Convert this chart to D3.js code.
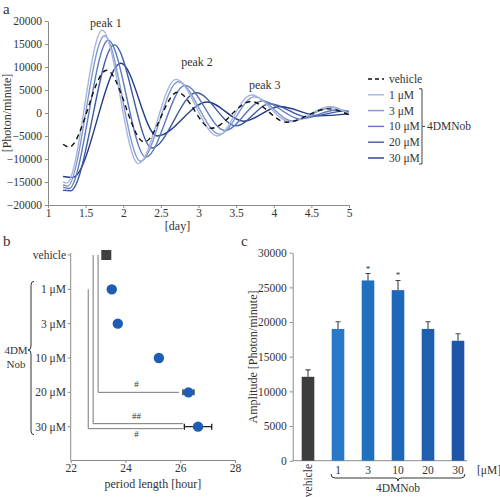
<!DOCTYPE html>
<html><head><meta charset="utf-8">
<script src="https://cdn.jsdelivr.net/npm/d3@7"></script>
<style>
html,body{margin:0;padding:0;background:#fff;}
svg text{font-family:"Liberation Serif","DejaVu Serif",serif;fill:#333;}
</style></head>
<body>
<svg id="chart" width="500" height="497"></svg>
<script>
// ---------- Panel a data: [day, photon/minute] ----------
const seriesNames = ["vehicle", "1 μM", "3 μM", "10 μM", "20 μM", "30 μM"];
const vehicleCurve = [[1.2,-6800],[1.28,-7400],[1.78,9300],[2.28,-6300],[2.72,4500],[3.17,-3300],[3.7,2500],[4.17,-2000],[4.72,900],[5.0,-400]];
const uM1Curve  = [[1.2,-15000],[1.25,-15200],[1.72,18000],[2.2,-11000],[2.7,7300],[3.25,-5000],[3.7,3900],[4.22,-1900],[4.75,1400],[5.0,-200]];
const uM3Curve  = [[1.2,-15600],[1.26,-15900],[1.75,16800],[2.23,-10500],[2.73,6800],[3.28,-4600],[3.74,3500],[4.25,-1700],[4.77,1200],[5.0,-100]];
const uM10Curve = [[1.2,-16100],[1.28,-16400],[1.8,15800],[2.3,-9600],[2.82,6000],[3.35,-3800],[3.85,2600],[4.35,-1300],[4.85,700],[5.0,300]];
const uM20Curve = [[1.2,-16800],[1.3,-16900],[1.88,14800],[2.38,-7600],[2.97,4400],[3.5,-2800],[3.95,2000],[4.45,-900],[4.93,400],[5.0,350]];
const uM30Curve = [[1.2,-13800],[1.33,-14000],[1.97,10800],[2.45,-5000],[3.12,2400],[3.6,-1800],[4.08,1400],[4.6,-600],[5.0,-200]];
const dayTicks = [1,1.5,2,2.5,3,3.5,4,4.5,5];
const photonTicks = [-20000,-15000,-10000,-5000,0,5000,10000,15000,20000];
const peakLabels = [{t:"peak 1", d:1.77, v:18800},{t:"peak 2", d:2.98, v:10300},{t:"peak 3", d:3.88, v:5200}];

// ---------- Panel b data ----------
const periodCats = ["vehicle","1 μM","3 μM","10 μM","20 μM","30 μM"];
const periodVals = [23.3, 23.5, 23.72, 25.22, 26.3, 26.65];
const periodErr  = [0, 0.13, 0.05, 0.1, 0.2, 0.5];
const periodTicks = [22,24,26,28];

// ---------- Panel c data ----------
const ampCats = ["vehicle","1","3","10","20","30"];
const ampVals = [12100, 19000, 26000, 24600, 19000, 17300];
const ampErr  = [1000, 1050, 1000, 1400, 1050, 1000];
const ampSig  = ["", "", "*", "*", "", ""];
const ampTicks = [0,5000,10000,15000,20000,25000,30000];

const svg = d3.select("#chart");
const axisCol = "#8a8a8a";
const fs = 11.5;

// ================= Panel a =================
const xA = d3.scaleLinear().domain([1,5]).range([48,349]);
const yA = d3.scaleLinear().domain([-20000,20000]).range([205,21]);
const colors = ["#111111","#a7b6dd","#8298cd","#5d79bc","#3d5aa3","#233c8a"];
const curves = [vehicleCurve,uM1Curve,uM3Curve,uM10Curve,uM20Curve,uM30Curve];

svg.append("text").attr("x",3).attr("y",14).attr("font-size",15).text("a");

const gAy = svg.append("g").attr("transform","translate(48,0)")
  .call(d3.axisLeft(yA).tickValues(photonTicks).tickSize(3).tickSizeOuter(0).tickFormat(d3.format("d")));
const gAx = svg.append("g").attr("transform","translate(0,205)")
  .call(d3.axisBottom(xA).tickValues(dayTicks).tickSize(3).tickPadding(1).tickSizeOuter(0).tickFormat(d=>d));
[gAy,gAx].forEach(g=>{
  g.selectAll("path,line").attr("stroke",axisCol);
  g.selectAll("text").attr("font-size",fs).attr("font-family","Liberation Serif").attr("fill","#333");
});

svg.append("text").attr("transform","translate(11,113) rotate(-90)").attr("text-anchor","middle")
  .attr("font-size",12).text("[Photon/minute]");
svg.append("text").attr("x",xA(3)-21).attr("y",230).attr("text-anchor","middle").attr("font-size",12).text("[day]");

const lineGen = d3.line().x(d=>xA(d[0])).y(d=>yA(d[1])).curve(d3.curveMonotoneX);
[5,4,3,2,1,0].forEach(i=>{
  svg.append("path").datum(curves[i]).attr("d",lineGen).attr("fill","none")
    .attr("stroke",colors[i]).attr("stroke-width",1.4)
    .attr("stroke-dasharray", i===0 ? "5,4" : null);
});

peakLabels.forEach(p=>{
  svg.append("text").attr("x",xA(p.d)).attr("y",yA(p.v)).attr("text-anchor","middle")
    .attr("font-size",12).text(p.t);
});

// legend
const legY = d3.scalePoint().domain(seriesNames).range([79,158]);
seriesNames.forEach((n,i)=>{
  const y = legY(n);
  svg.append("line").attr("x1",368).attr("x2",384).attr("y1",y).attr("y2",y)
    .attr("stroke",colors[i]).attr("stroke-width",1.4).attr("stroke-dasharray", i===0 ? "4,3" : null);
  svg.append("text").attr("x",389).attr("y",y).attr("dy","0.35em").attr("font-size",fs).text(n);
});
const by0 = legY(seriesNames[1])-6, by1 = legY(seriesNames[5])+6, bm = legY(seriesNames[3]);
svg.append("path").attr("d",`M419,${by0}H422V${by1}H419M422,${bm}H425`).attr("fill","none").attr("stroke","#444").attr("stroke-width",1);
svg.append("text").attr("x",427).attr("y",bm).attr("dy","0.35em").attr("font-size",fs).text("4DMNob");

// ================= Panel b =================
svg.append("text").attr("x",3).attr("y",246).attr("font-size",15).text("b");
const xB = d3.scaleLinear().domain([22,28]).range([70.7,235]);
const yB = d3.scalePoint().domain(periodCats.concat([""])).range([255,461]);
const gBx = svg.append("g").attr("transform","translate(0,460)")
  .call(d3.axisBottom(xB).tickValues(periodTicks).tickSize(3).tickPadding(1).tickSizeOuter(0).tickFormat(d3.format("d")));
gBx.selectAll("path,line").attr("stroke",axisCol);
gBx.selectAll("text").attr("font-size",fs).attr("font-family","Liberation Serif").attr("fill","#333");
svg.append("line").attr("x1",70.7).attr("x2",70.7).attr("y1",253).attr("y2",460).attr("stroke",axisCol);
periodCats.forEach(c=>{
  svg.append("line").attr("x1",67.7).attr("x2",70.7).attr("y1",yB(c)).attr("y2",yB(c)).attr("stroke",axisCol);
  svg.append("text").attr("x",66).attr("y",yB(c)).attr("dy","0.35em").attr("text-anchor","end").attr("font-size",fs).text(c);
});
svg.append("text").attr("x",xB(25)).attr("y",488).attr("text-anchor","middle").attr("font-size",12).text("period length [hour]");
// brace
const bt = yB("1 μM")-8, bb = yB("30 μM")+8, bmid = 350;
svg.append("path").attr("d",`M34,${bt} Q31,${bt} 31,${bt+4} L31,${bmid-4} Q31,${bmid} 28,${bmid} Q31,${bmid} 31,${bmid+4} L31,${bb-4} Q31,${bb} 34,${bb}`)
  .attr("fill","none").attr("stroke","#333").attr("stroke-width",1);
svg.append("text").attr("x",16).attr("y",354).attr("text-anchor","middle").attr("font-size",11).text("4DM");
svg.append("text").attr("x",16).attr("y",368).attr("text-anchor","middle").attr("font-size",11).text("Nob");

// significance lines
const sigLines = [
  {x:23.0, from:"vehicle", to:"20 μM", end:25.95, label:"#", dy:-5},
  {x:22.82, from:"vehicle", to:"30 μM", end:26.1, label:"##", dy:-5, off:-3},
  {x:22.64, from:"1 μM", to:"30 μM", end:26.1, label:"#", dy:8, off:2}
];
sigLines.forEach(s=>{
  const y1 = yB(s.from), y2 = yB(s.to)+(s.off||0);
  svg.append("path").attr("d",`M${xB(s.x)},${y1}V${y2}H${xB(s.end)}`).attr("fill","none").attr("stroke","#777").attr("stroke-width",1);
  svg.append("text").attr("x",xB(24.4)).attr("y",y2+s.dy).attr("text-anchor","middle").attr("font-size",9).attr("fill","#888").text(s.label);
});
periodCats.forEach((c,i)=>{
  const y = yB(c), v = periodVals[i], e = periodErr[i];
  if(e>0){
    svg.append("path").attr("d",`M${xB(v-e)},${y-3}V${y+3}M${xB(v-e)},${y}H${xB(v+e)}M${xB(v+e)},${y-3}V${y+3}`)
      .attr("stroke","#222").attr("stroke-width",1.3).attr("fill","none");
  }
  if(i===0){
    svg.append("rect").attr("x",xB(v)-5).attr("y",y-5).attr("width",10).attr("height",10).attr("fill","#404040");
  } else {
    svg.append("circle").attr("cx",xB(v)).attr("cy",y).attr("r",5.2).attr("fill","#1d5db3");
  }
});

// ================= Panel c =================
svg.append("text").attr("x",241).attr("y",246).attr("font-size",15).text("c");
const xC = d3.scaleBand().domain(ampCats).range([293,473]).paddingInner(0.58).paddingOuter(0.29);
const yC = d3.scaleLinear().domain([0,30000]).range([460.7,252.7]);
const gCy = svg.append("g").attr("transform","translate(292.7,0)")
  .call(d3.axisLeft(yC).tickValues(ampTicks).tickSize(3).tickSizeOuter(0).tickFormat(d3.format("d")));
gCy.selectAll("path,line").attr("stroke",axisCol);
gCy.selectAll("text").attr("font-size",fs).attr("font-family","Liberation Serif").attr("fill","#333");
svg.append("line").attr("x1",292.7).attr("x2",467).attr("y1",460.7).attr("y2",460.7).attr("stroke",axisCol);
svg.append("text").attr("transform","translate(257,357) rotate(-90)").attr("text-anchor","middle")
  .attr("font-size",12).text("Amplitude [Photon/minute]");
const barCols = ["#3d3d3d","#2878c8","#2070c0","#1f67b8","#1e5fb0","#1d55a8"];
ampCats.forEach((c,i)=>{
  const x = xC(c), w = xC.bandwidth(), cx = x+w/2;
  svg.append("rect").attr("x",x).attr("y",yC(ampVals[i])).attr("width",w).attr("height",yC(0)-yC(ampVals[i])).attr("fill",barCols[i]);
  const yt = yC(ampVals[i]+ampErr[i]);
  svg.append("path").attr("d",`M${cx},${yC(ampVals[i])}V${yt}M${cx-2.5},${yt}H${cx+2.5}`).attr("stroke","#444").attr("stroke-width",1.1).attr("fill","none");
  if(ampSig[i]) svg.append("text").attr("x",cx).attr("y",yt-2).attr("text-anchor","middle").attr("font-size",9).attr("fill","#777").text(ampSig[i]);
  if(i===0){
    svg.append("text").attr("transform",`translate(${cx},464) rotate(-90)`).attr("text-anchor","end").attr("dy","0.35em").attr("font-size",fs).text(c);
  } else {
    svg.append("text").attr("x",cx).attr("y",474).attr("text-anchor","middle").attr("font-size",fs).text(c);
  }
});
svg.append("text").attr("x",477).attr("y",474).attr("font-size",fs).text("[μM]");
const cb0 = xC("1")+xC.bandwidth()/2-7, cb1 = xC("30")+xC.bandwidth()/2+7, cbm = (cb0+cb1)/2;
svg.append("path").attr("d",`M${cb0},474 Q${cb0},478 ${cb0+4},478 L${cbm-3},478 Q${cbm},478 ${cbm},481 Q${cbm},478 ${cbm+3},478 L${cb1-4},478 Q${cb1},478 ${cb1},474`)
  .attr("fill","none").attr("stroke","#333").attr("stroke-width",1);
svg.append("text").attr("x",cbm).attr("y",492).attr("text-anchor","middle").attr("font-size",fs).text("4DMNob");
</script>
</body></html>
